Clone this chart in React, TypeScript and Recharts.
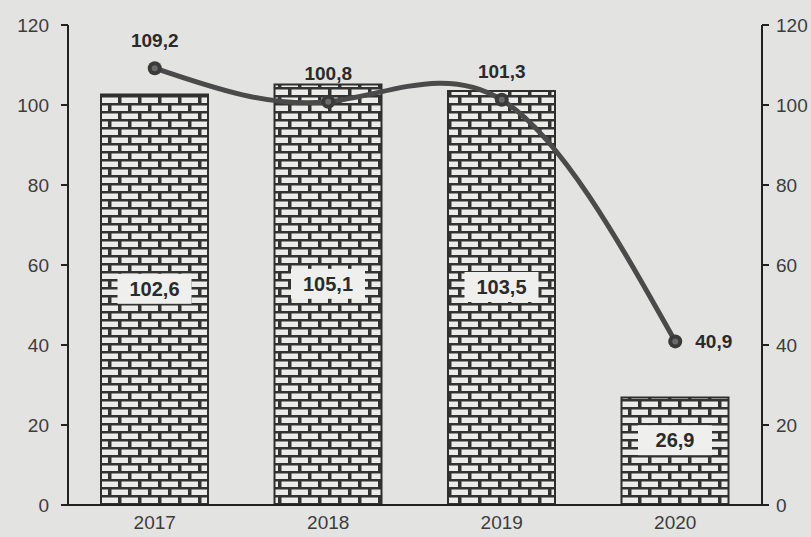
import React from "react";
import { ComposedChart, Bar, Line, XAxis, YAxis, LabelList } from "recharts";

const years = ["2017", "2018", "2019", "2020"];
const barValues = [102.6, 105.1, 103.5, 26.9];
const lineValues = [109.2, 100.8, 101.3, 40.9];
const yTicks = [0, 20, 40, 60, 80, 100, 120];

const data = years.map((y, i) => ({ year: y, bar: barValues[i], line: lineValues[i] }));

const fmt = (v: number) => v.toFixed(1).replace(".", ",");

const BarBox = (props: any) => {
  const { x, y, width, height, value } = props;
  const cx = x + width / 2;
  const cy = y + height / 2 - 11;
  return (
    <g>
      <rect x={cx - 37} y={cy - 15} width={74} height={30} fill="#efefed" />
      <text x={cx} y={cy} textAnchor="middle" dominantBaseline="central"
        fontSize={20} fontWeight="bold" fill="#2a2a2a">
        {fmt(value)}
      </text>
    </g>
  );
};

const LineLabel = (props: any) => {
  const { x, y, value, index } = props;
  const last = index === years.length - 1;
  return (
    <text
      x={last ? x + 20 : x}
      y={last ? y : y - 28}
      textAnchor={last ? "start" : "middle"}
      dominantBaseline="central"
      fontSize={19}
      fontWeight="bold"
      fill="#2a2a2a"
    >
      {fmt(value)}
    </text>
  );
};

const Dot = (props: any) => {
  const { cx, cy } = props;
  return (
    <g>
      <circle cx={cx} cy={cy} r={7} fill="#3a3a3a" />
      <circle cx={cx} cy={cy} r={3} fill="#6a6a6a" />
    </g>
  );
};

export default function App() {
  const tickStyle = { fontSize: 19, fill: "#3c3c3c", fontFamily: "Liberation Sans, Arial, sans-serif" };
  return (
    <div style={{ position: "absolute", left: 0, top: 0, width: 811, height: 537, background: "#e3e3e1" }}>
      <ComposedChart
        width={811}
        height={537}
        data={data}
        margin={{ top: 25, right: 0, bottom: 0, left: 0 }}
        barCategoryGap="38%"
        style={{ fontFamily: "Liberation Sans, Arial, sans-serif" }}
      >
        <defs>
          <pattern id="brick" patternUnits="userSpaceOnUse" width={20} height={16}>
            <rect x={0} y={0} width={20} height={16} fill="#333" />
            <rect x={1.5} y={1.5} width={16.5} height={5.5} fill="#ececea" />
            <rect x={-8.5} y={9.5} width={16.5} height={5.5} fill="#ececea" />
            <rect x={11.5} y={9.5} width={16.5} height={5.5} fill="#ececea" />
          </pattern>
        </defs>
        <XAxis
          dataKey="year"
          height={32}
          tickLine={false}
          axisLine={{ stroke: "#222", strokeWidth: 2 }}
          tick={tickStyle}
          tickMargin={5}
        />
        <YAxis
          yAxisId="left"
          orientation="left"
          width={68}
          domain={[0, 120]}
          ticks={yTicks}
          interval={0}
          axisLine={{ stroke: "#222", strokeWidth: 2 }}
          tickLine={{ stroke: "#222", strokeWidth: 2 }}
          tickSize={7}
          tickMargin={12}
          tick={tickStyle}
        />
        <YAxis
          yAxisId="right"
          orientation="right"
          width={49}
          domain={[0, 120]}
          ticks={yTicks}
          interval={0}
          axisLine={{ stroke: "#222", strokeWidth: 2 }}
          tickLine={{ stroke: "#222", strokeWidth: 2 }}
          tickSize={7}
          tickMargin={7}
          tick={tickStyle}
        />
        <Bar
          yAxisId="left"
          dataKey="bar"
          barSize={107}
          fill="url(#brick)"
          stroke="#2e2e2e"
          strokeWidth={2}
          isAnimationActive={false}
        >
          <LabelList dataKey="bar" content={<BarBox />} />
        </Bar>
        <Line
          yAxisId="right"
          type="natural"
          dataKey="line"
          stroke="#4a4a4a"
          strokeWidth={5}
          dot={<Dot />}
          activeDot={false}
          isAnimationActive={false}
        >
          <LabelList dataKey="line" content={<LineLabel />} />
        </Line>
      </ComposedChart>
    </div>
  );
}
